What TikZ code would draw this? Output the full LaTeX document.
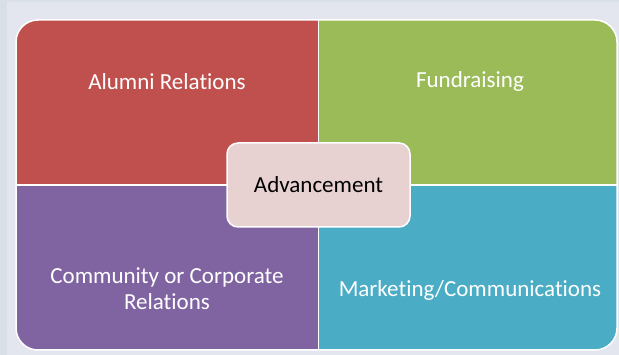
\documentclass[tikz,border=0pt]{standalone}
\usepackage{fontspec}
\setmainfont{Carlito}[Ligatures={NoCommon}]
\begin{document}
\begin{tikzpicture}[x=1pt,y=-1pt,
  quadtext/.style={text=white,font=\fontsize{23}{26}\selectfont,align=center},
  centerbox/.style={draw=white,line width=1.5pt,fill=centerfill,rounded corners=11pt,minimum width=183pt,minimum height=84pt,font=\fontsize{23}{26}\selectfont,text=black}]
\definecolor{bgouter}{HTML}{D9DFE7}
\definecolor{bginner}{HTML}{E3E6EF}
\definecolor{qred}{HTML}{C0504D}
\definecolor{qgreen}{HTML}{9BBB59}
\definecolor{qpurple}{HTML}{8064A2}
\definecolor{qteal}{HTML}{4BACC6}
\definecolor{centerfill}{HTML}{E8D1D1}
\useasboundingbox (0,0) rectangle (619,355);
\fill[bgouter] (0,0) rectangle (619,355);
\fill[bginner] (7,2) rectangle (619,355);
\begin{scope}
  \clip[rounded corners=22pt] (16,20) rectangle (617,350);
  \fill[qred] (16,20) rectangle (318.5,185);
  \fill[qgreen] (318.5,20) rectangle (617,185);
  \fill[qpurple] (16,185) rectangle (318.5,350);
  \fill[qteal] (318.5,185) rectangle (617,350);
\end{scope}
\draw[white,line width=1.5pt] (318.5,20) -- (318.5,350);
\draw[white,line width=1.5pt] (16,185) -- (617,185);
\draw[white,line width=1.5pt,rounded corners=22pt] (16,20) rectangle (617,350);
\node[quadtext] (alumni) at (167,81.5) {Alumni Relations};
\node[quadtext] (fund) at (470,81.5) {Fundraising};
\node[quadtext] (comm) at (167,288.5) {Community or Corporate\\Relations};
\node[quadtext] (mark) at (470,290) {Marketing/Communications};
\node[centerbox] (adv) at (318.5,185) {Advancement};
\end{tikzpicture}
\end{document}
